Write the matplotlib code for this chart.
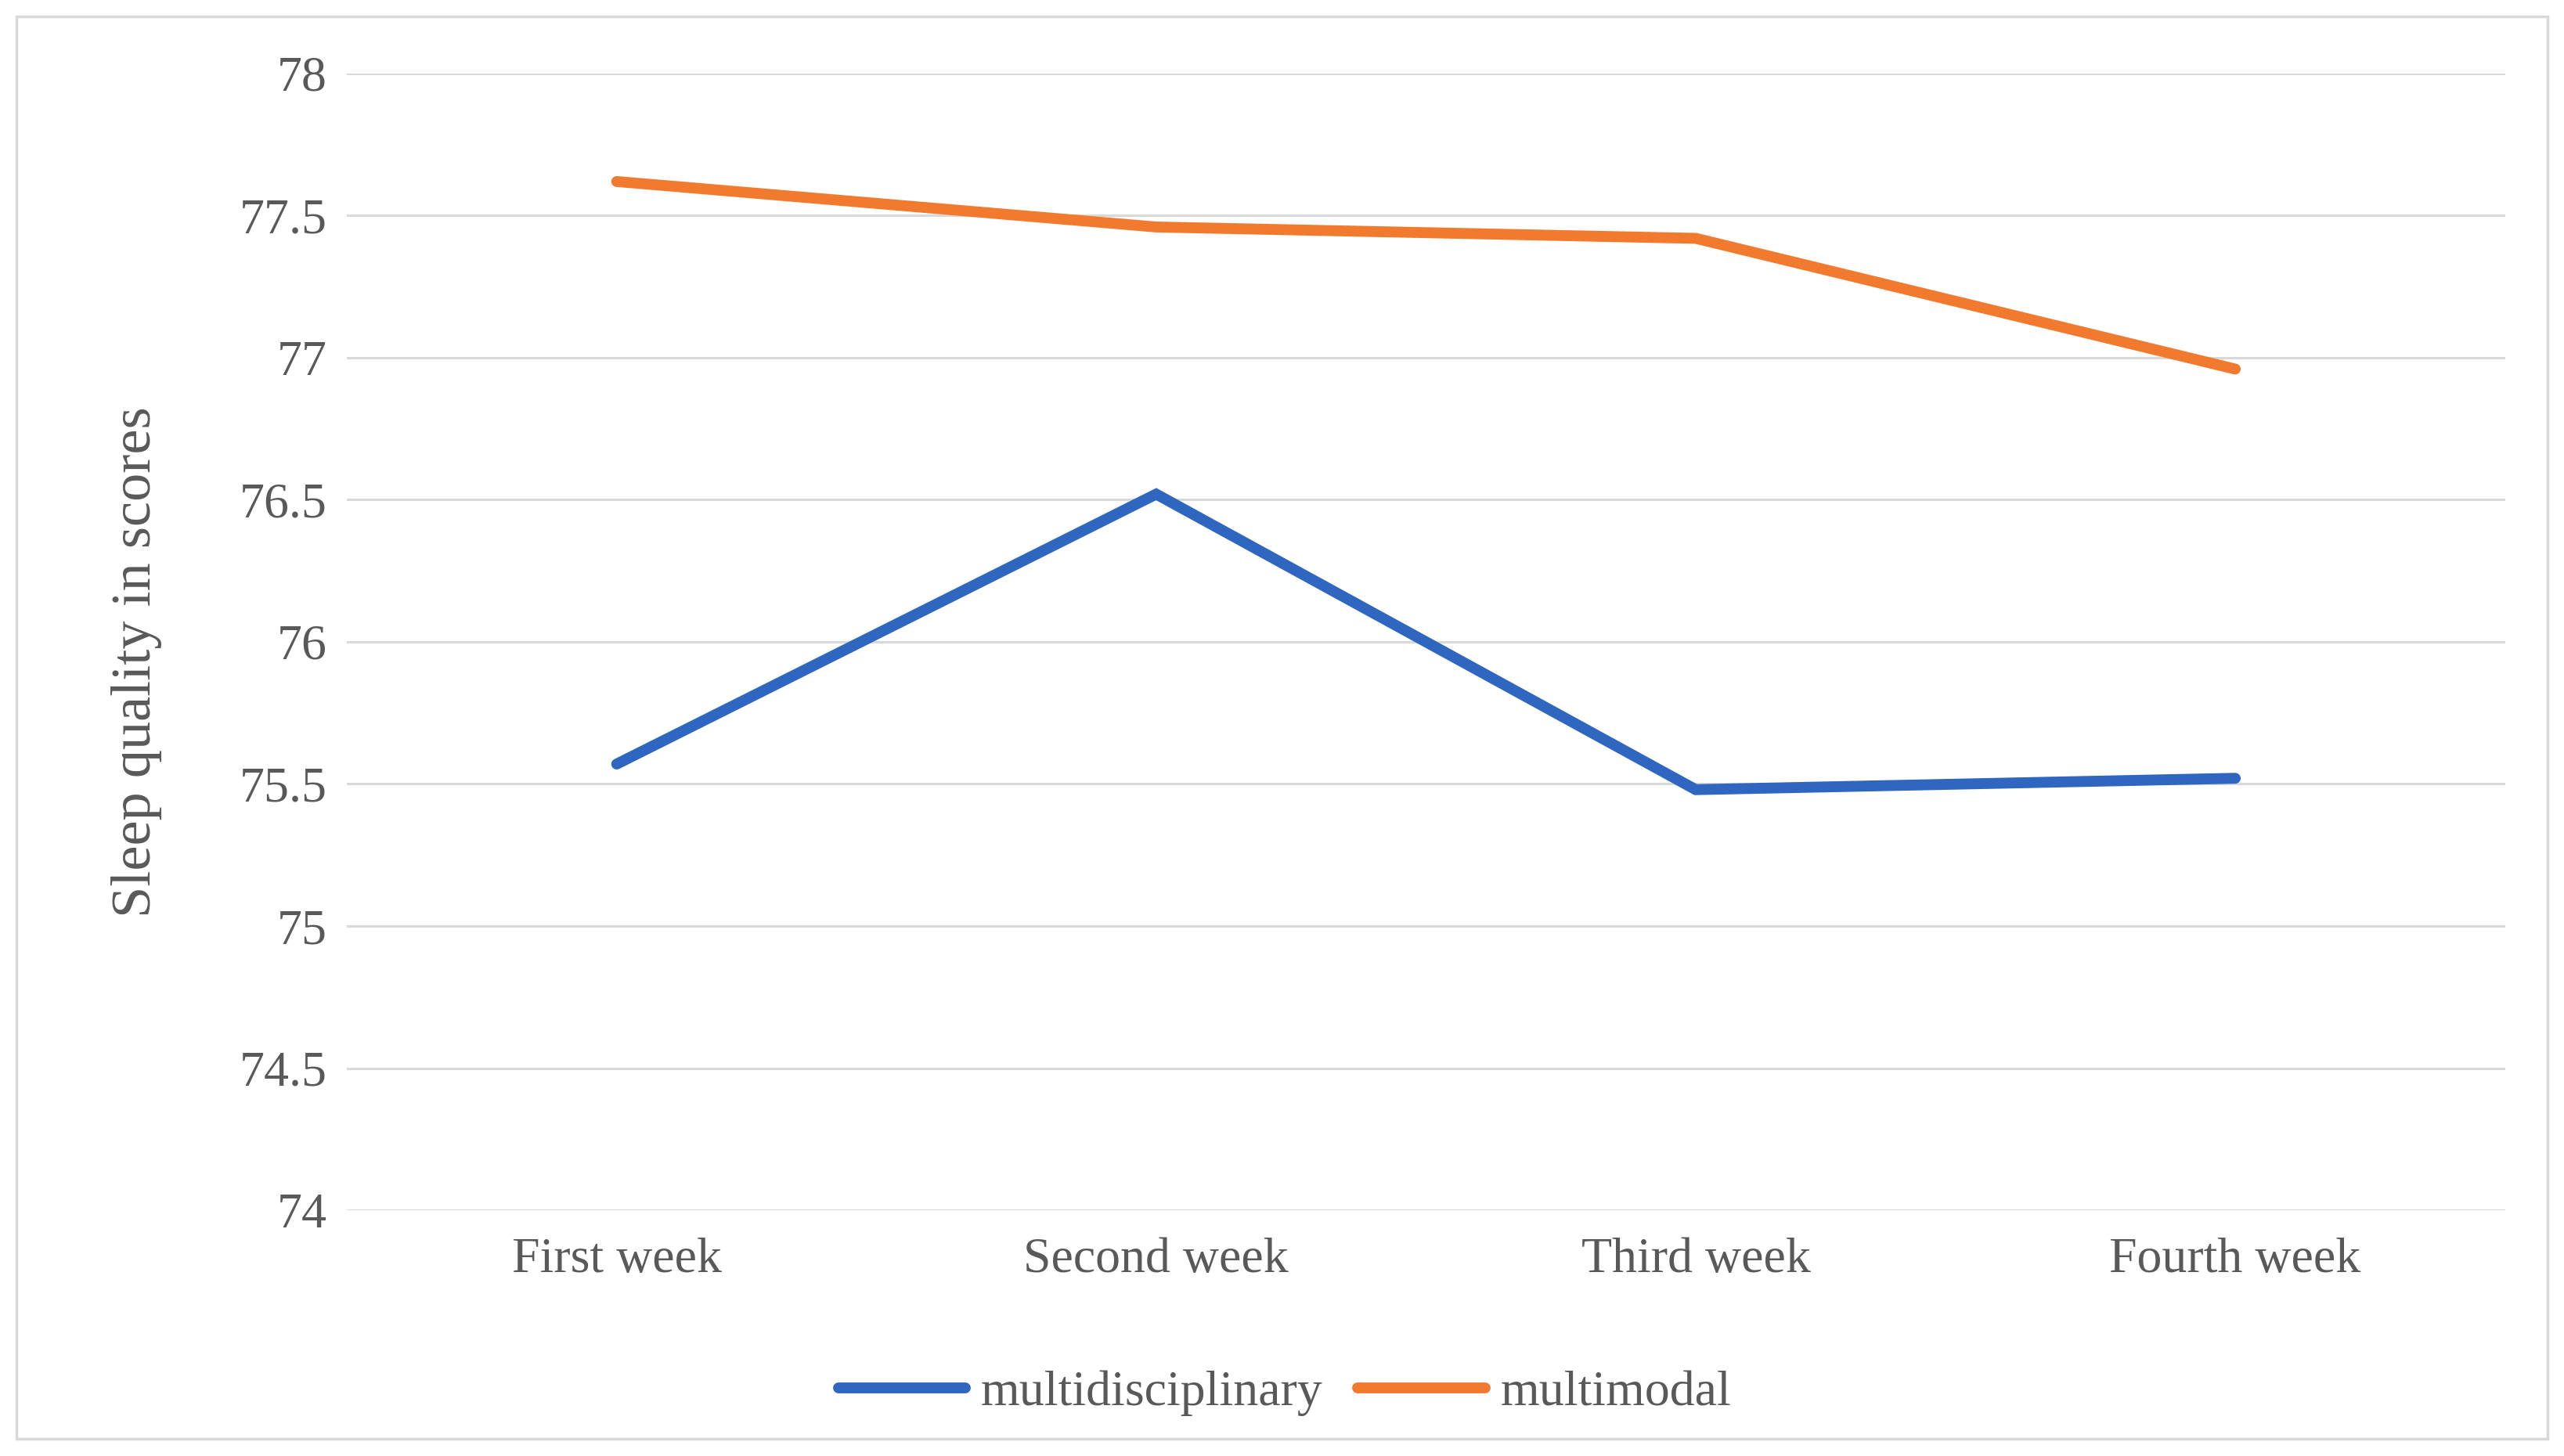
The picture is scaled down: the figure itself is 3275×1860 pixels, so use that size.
import matplotlib.pyplot as plt
from matplotlib.patches import Rectangle

weeks=["First week","Second week","Third week","Fourth week"]
multidisciplinary=[75.57,76.52,75.48,75.52]
multimodal=[77.62,77.46,77.42,76.96]
yticks=[74,74.5,75,75.5,76,76.5,77,77.5,78]
ytick_labels=["74","74.5","75","75.5","76","76.5","77","77.5","78"]

plt.rcParams['font.family']=['Liberation Serif','DejaVu Serif']
text_color='#595959'
grid_color='#D9D9D9'

fig=plt.figure(figsize=(32.75,18.6),dpi=100)
ax=fig.add_axes([0.1353,0.1688,0.977-0.1353,0.9495-0.1688])

x=list(range(len(weeks)))
ax.plot(x,multidisciplinary,color='#2F66C0',linewidth=10,label='multidisciplinary',solid_capstyle='round',solid_joinstyle='miter',zorder=3)
ax.plot(x,multimodal,color='#F27A2E',linewidth=10,label='multimodal',solid_capstyle='round',solid_joinstyle='miter',zorder=3)

ax.set_xlim(-0.5,len(weeks)-0.5)
ax.set_ylim(74,78)
ax.set_yticks(yticks)
ax.set_yticklabels(ytick_labels)
ax.set_xticks(x)
ax.set_xticklabels(weeks)
ax.tick_params(axis='both',length=0,labelsize=46,colors=text_color)
ax.tick_params(axis='y',pad=18)
ax.tick_params(axis='x',pad=25)
ax.grid(True,axis='y',color=grid_color,linewidth=2.2)
ax.set_axisbelow(True)
for s in ax.spines.values():
    s.set_visible(False)

ax.set_ylabel("Sleep quality in scores",fontsize=52,color=text_color)
ax.yaxis.set_label_coords(-0.0856,0.482)

fig.legend(loc='center',bbox_to_anchor=(0.501,0.043),ncol=2,frameon=False,fontsize=46,
           handlelength=2.55,handletextpad=0.3,columnspacing=0.7,labelcolor=text_color)

# outer chart border
fig.patches.append(Rectangle((0.0064,0.012),0.9872,0.9767,transform=fig.transFigure,
                             fill=False,edgecolor=grid_color,linewidth=2.5))

fig.savefig("out.png",dpi=100)
